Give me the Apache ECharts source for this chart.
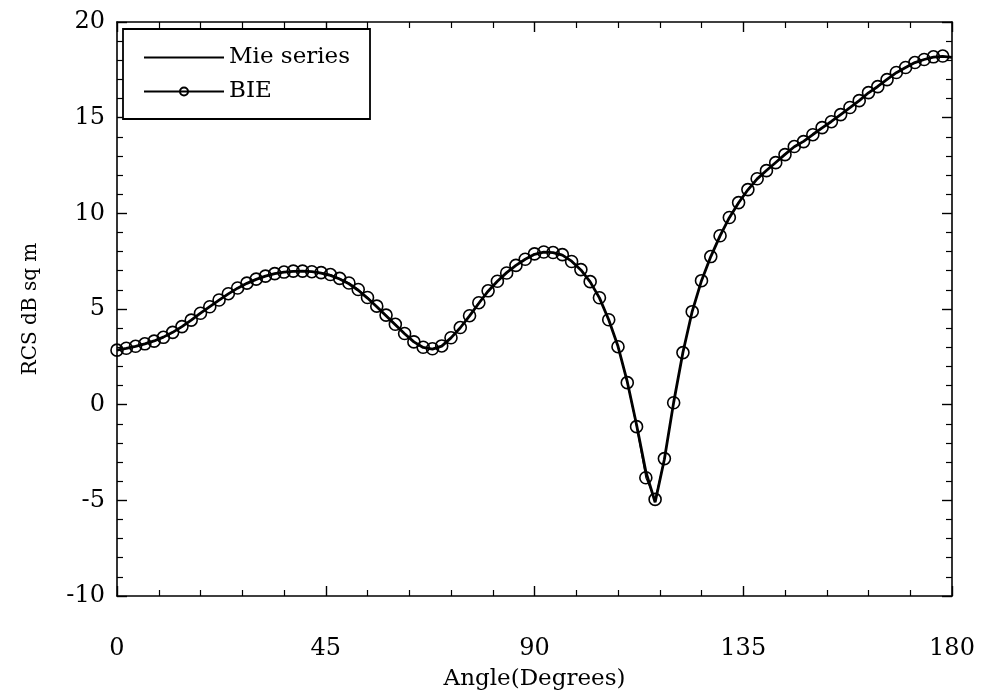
<!DOCTYPE html>
<html>
<head>
<meta charset="utf-8">
<script src="https://cdn.jsdelivr.net/npm/echarts@6/dist/echarts.min.js"></script>
<style>
html,body{margin:0;padding:0;background:#fff;}
#chart{width:981px;height:691px;}
</style>
</head>
<body>
<div id="chart"></div>
<script>
// Angles (degrees), every 2 degrees
const bieAngles = [0,2,4,6,8,10,12,14,16,18,20,22,24,26,28,30,32,34,36,38,40,42,44,46,48,50,52,54,56,58,60,62,64,66,68,70,72,74,76,78,80,82,84,86,88,90,92,94,96,98,100,102,104,106,108,110,112,114,116,118,120,122,124,126,128,130,132,134,136,138,140,142,144,146,148,150,152,154,156,158,160,162,164,166,168,170,172,174,176,178];
const bieValues = [2.85,2.95,3.05,3.18,3.32,3.52,3.78,4.08,4.42,4.78,5.12,5.47,5.80,6.10,6.35,6.56,6.72,6.85,6.93,6.98,6.98,6.95,6.90,6.80,6.60,6.36,6.02,5.60,5.15,4.68,4.20,3.72,3.28,3.00,2.92,3.07,3.50,4.03,4.65,5.33,5.95,6.45,6.88,7.28,7.60,7.88,7.98,7.95,7.84,7.48,7.06,6.43,5.59,4.44,3.03,1.15,-1.15,-3.82,-4.95,-2.82,0.10,2.72,4.86,6.48,7.74,8.83,9.78,10.56,11.24,11.81,12.23,12.65,13.07,13.49,13.75,14.11,14.48,14.79,15.16,15.53,15.89,16.31,16.62,16.99,17.36,17.62,17.88,18.04,18.18,18.22];

const mieAngles = [0,2,4,6,8,10,12,14,16,18,20,22,24,26,28,30,32,34,36,38,40,42,44,46,48,50,52,54,56,58,60,62,64,66,68,70,72,74,76,78,80,82,84,86,88,90,92,94,96,98,100,102,104,106,108,110,112,114,116,118,120,122,124,126,128,130,132,134,136,138,140,142,144,146,148,150,152,154,156,158,160,162,164,166,168,170,172,174,176,178,180];
const mieValues = [2.85,2.94,3.05,3.18,3.33,3.53,3.78,4.08,4.42,4.78,5.12,5.46,5.79,6.09,6.34,6.55,6.72,6.85,6.93,6.97,6.98,6.95,6.88,6.76,6.57,6.32,5.98,5.57,5.12,4.65,4.18,3.71,3.28,2.99,2.90,3.06,3.49,4.02,4.64,5.30,5.93,6.45,6.90,7.28,7.60,7.86,7.97,7.95,7.82,7.50,7.04,6.42,5.58,4.44,3.05,1.20,-1.05,-3.50,-5.10,-2.85,0.12,2.74,4.88,6.48,7.74,8.82,9.77,10.55,11.23,11.80,12.24,12.66,13.08,13.48,13.76,14.12,14.47,14.80,15.16,15.52,15.89,16.30,16.63,17.00,17.35,17.62,17.88,18.04,18.16,18.20,18.15];

const xTicks = [0,45,90,135,180];
const yTicks = [-10,-5,0,5,10,15,20];

const FONT = '"DejaVu Serif", serif';
const chart = echarts.init(document.getElementById('chart'), null, {renderer:'canvas'});

function pairs(xs, ys){ return xs.map((x,i)=>[x, ys[i]]); }

const axisCommonX = {
  type:'value', min:xTicks[0], max:xTicks[xTicks.length-1], interval:45,
  axisLine:{show:true, onZero:false, lineStyle:{color:'#000', width:1.6}},
  axisTick:{show:true, inside:true, length:10, lineStyle:{color:'#000', width:1.4}},
  minorTick:{show:true, splitNumber:5, length:6, lineStyle:{color:'#000', width:1.2}},
  splitLine:{show:false}
};
const axisCommonY = {
  type:'value', min:yTicks[0], max:yTicks[yTicks.length-1], interval:5,
  axisLine:{show:true, onZero:false, lineStyle:{color:'#000', width:1.6}},
  axisTick:{show:true, inside:true, length:10, lineStyle:{color:'#000', width:1.4}},
  minorTick:{show:true, splitNumber:5, length:6, lineStyle:{color:'#000', width:1.2}},
  splitLine:{show:false}
};

chart.setOption({
  backgroundColor:'#fff',
  animation:false,
  grid:{left:117, right:29, top:22, bottom:95, containLabel:false, outerBoundsMode:'none'},
  legend:{
    show:true, orient:'vertical', left:123, top:29,
    backgroundColor:'#fff', borderColor:'#000', borderWidth:1.8,
    padding:[17, 20, 16, 20], itemGap:11, itemWidth:80, itemHeight:10,
    textStyle:{fontFamily:FONT, fontSize:23, color:'#000'},
    data:[
      {name:'Mie series', itemStyle:{opacity:0}},
      {name:'BIE'}
    ]
  },
  xAxis:[
    Object.assign({}, axisCommonX, {
      position:'bottom',
      name:'Angle(Degrees)', nameLocation:'middle', nameGap:72,
      nameTextStyle:{fontFamily:FONT, fontSize:23, color:'#000'},
      axisLabel:{show:true, margin:41, fontFamily:FONT, fontSize:24, color:'#000'}
    }),
    Object.assign({}, axisCommonX, {position:'top', axisLabel:{show:false}})
  ],
  yAxis:[
    Object.assign({}, axisCommonY, {
      position:'left',
      name:'RCS dB sq m', nameLocation:'middle', nameGap:76, nameRotate:90,
      nameTextStyle:{fontFamily:FONT, fontSize:20, color:'#000'},
      axisLabel:{show:true, margin:12, fontFamily:FONT, fontSize:24, color:'#000'}
    }),
    Object.assign({}, axisCommonY, {position:'right', axisLabel:{show:false}})
  ],
  series:[
    {
      name:'BIE', type:'line', xAxisIndex:0, yAxisIndex:0,
      data:pairs(bieAngles, bieValues),
      symbol:'circle', symbolSize:12, showAllSymbol:true,
      lineStyle:{color:'#000', width:1.1},
      itemStyle:{color:'rgba(255,255,255,0)', borderColor:'#000', borderWidth:1.6},
      z:3
    },
    {
      name:'Mie series', type:'line', xAxisIndex:0, yAxisIndex:0,
      data:pairs(mieAngles, mieValues),
      symbol:'none', smooth:false,
      lineStyle:{color:'#000', width:2.8},
      itemStyle:{color:'#000'},
      z:4
    }
  ]
});
</script>
</body>
</html>
